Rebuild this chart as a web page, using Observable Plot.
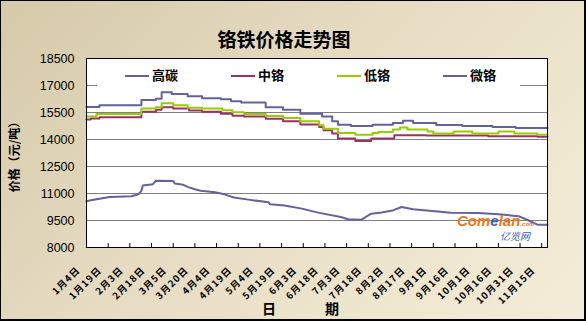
<!DOCTYPE html>
<html><head><meta charset="utf-8">
<script src="https://cdn.jsdelivr.net/npm/d3@7"></script>
<script src="https://cdn.jsdelivr.net/npm/@observablehq/plot@0.6"></script>
<style>
body{margin:0;background:#fff;}
#wrap{position:relative;width:586px;height:321px;overflow:hidden;
 background:linear-gradient(135deg,#d6c9a9 0%,#e4dac0 40%,#efe6cf 75%,#f4ecd8 100%);}
#wrap svg{position:absolute;left:0;top:0;}
#chart g[aria-label="x-axis tick label"] text{letter-spacing:1.1px;}
.abs{position:absolute;white-space:nowrap;font-family:"Noto Sans CJK SC";font-weight:bold;color:#000;line-height:1;}
.sw{position:absolute;height:2px;}
#border{position:absolute;left:0;top:0;width:586px;height:321px;box-sizing:border-box;border:1px solid #000;border-bottom-width:2px;border-right-width:2px;}
</style></head>
<body><div id="wrap">
<div class="abs" style="left:0;top:29px;width:568px;text-align:center;font-size:19px;">铬铁价格走势图</div>
<div class="abs" style="left:14px;top:154px;font-size:12px;transform:translate(-50%,-50%) rotate(-90deg);">价格（元/吨）</div>
<div class="abs" style="left:262px;top:301px;font-size:14px;">日</div>
<div class="abs" style="left:325px;top:301px;font-size:14px;">期</div>
<div id="chart"></div>
<div id="legend" style="position:absolute;left:97px;top:59px;width:423px;height:28px;background:#fff;"></div>
<div class="abs" style="left:457px;top:213px;font-family:'Liberation Sans';font-style:italic;font-size:15px;line-height:15px;height:15px;color:#f07814;">Com<span style="color:#3a62b0">e</span>lan<span style="font-size:6px;">.com</span></div>
<div class="abs" style="left:500px;top:231px;font-style:italic;font-weight:normal;font-size:10px;color:#3a62b0;">亿览网</div>
<div id="border"></div>
</div>
<script>
// ---- data ----
const tickLabels = ["1月4日","1月19日","2月3日","2月18日","3月5日","3月20日","4月4日","4月19日","5月4日","5月19日","6月3日","6月18日","7月3日","7月18日","8月2日","8月17日","9月1日","9月16日","10月1日","10月16日","10月31日","11月15日"];
const tickDays = [0,15,30,45,60,75,90,105,120,135,150,165,180,195,210,225,240,255,270,285,300,315];
const yTicks = [8000,9500,11000,12500,14000,15500,17000,18500];
const gridVals = [9500,11000,12500,14000,15500,17000];
const seriesNames = ["高碳","中铬","低铬","微铬"];
const seriesColors = ["#62629f","#993366","#99cc00","#62629f"];

const gaoDays = [0,9,38,48,52,59,70,80,93,100,107,124,136,148,163,170,174,183,198,212,219,226,242,260,281,297,319];
const gaoVals = [15800,15900,16200,16270,16620,16530,16400,16290,16230,16120,16060,15790,15650,15430,15280,15020,14820,14750,14820,14910,15040,14910,14800,14750,14690,14640,14640];

const zhongDays = [0,3,9,38,48,52,60,71,80,93,101,109,124,136,148,161,164,170,174,186,197,213,235,278,312,319];
const zhongVals = [15110,15170,15240,15540,15650,15790,15720,15610,15540,15430,15320,15280,15150,15020,14840,14690,14510,14330,14050,13920,14050,14230,14220,14180,14150,14150];

const diDays = [0,7,38,48,52,60,70,80,94,101,109,124,136,148,161,164,174,186,198,202,212,217,222,236,240,254,267,285,296,312,319];
const diVals = [15280,15410,15720,15790,16010,15900,15770,15720,15630,15520,15410,15300,15190,15020,14790,14600,14360,14270,14360,14420,14550,14660,14550,14440,14330,14440,14330,14440,14330,14270,14270];

const weiDays = [0,3,7,16,31,36,38,39,46,48,60,61,67,70,75,79,89,96,102,112,126,127,137,149,156,162,176,181,190,197,204,212,218,226,241,252,271,285,299,306,312,319];
const weiVals = [10570,10620,10680,10810,10850,10960,11150,11450,11520,11710,11690,11560,11480,11370,11240,11150,11070,10940,10780,10660,10510,10400,10330,10160,10020,9910,9690,9570,9540,9880,9950,10060,10250,10120,10020,9930,9910,9850,9740,9500,9270,9270];

const toRows = (days, vals) => days.map((d, i) => ({day: d, value: vals[i]}));
const gao = toRows(gaoDays, gaoVals);
const zhong = toRows(zhongDays, zhongVals);
const di = toRows(diDays, diVals);
const wei = toRows(weiDays, weiVals);

const cjk = "Noto Sans CJK SC";
const chart = Plot.plot({
  width: 586, height: 321,
  marginLeft: 86, marginRight: 39, marginTop: 58, marginBottom: 74,
  style: {background: "transparent", fontFamily: "Liberation Sans", fontSize: "12px", color: "#000"},
  x: {domain: [0, 319]},
  y: {domain: [8000, 18500]},
  marks: [
    Plot.frame({fill: "white"}),
    Plot.gridY(gridVals, {stroke: "#808080", strokeOpacity: 1, strokeWidth: 1}),
    Plot.line(wei, {x: "day", y: "value", stroke: seriesColors[3], strokeWidth: 2}),
    Plot.line(zhong, {x: "day", y: "value", stroke: seriesColors[1], strokeWidth: 2, curve: "step-after"}),
    Plot.line(di, {x: "day", y: "value", stroke: seriesColors[2], strokeWidth: 2, curve: "step-after"}),
    Plot.line(gao, {x: "day", y: "value", stroke: seriesColors[0], strokeWidth: 2, curve: "step-after"}),
    Plot.frame({stroke: "black"}),
    Plot.axisY({ticks: yTicks, tickSize: 0, tickPadding: 12, tickFormat: d => String(d), fontSize: 12.5, label: null}),
    Plot.axisX({ticks: tickDays, tickSize: 0, tickPadding: 21, tickRotate: -45, dx: -8,
      tickFormat: d => tickLabels[tickDays.indexOf(d)], fontFamily: cjk, fontWeight: "bold", fontSize: 9.5, label: null}),
    Plot.axisX({ticks: tickDays, tickSize: -4, tickFormat: () => "", label: null})
  ]
});
document.getElementById("chart").appendChild(chart);

// legend
const lg = document.getElementById("legend");
const swX = [28, 134, 240, 346];
seriesNames.forEach((n, i) => {
  const s = document.createElement("div");
  s.className = "sw";
  s.style.cssText = `left:${swX[i]}px;top:16px;width:24px;background:${seriesColors[i]};`;
  lg.appendChild(s);
  const t = document.createElement("div");
  t.className = "abs";
  t.style.cssText = `left:${swX[i] + 27}px;top:9px;font-size:13px;`;
  t.textContent = n;
  lg.appendChild(t);
});
</script>
</body></html>
